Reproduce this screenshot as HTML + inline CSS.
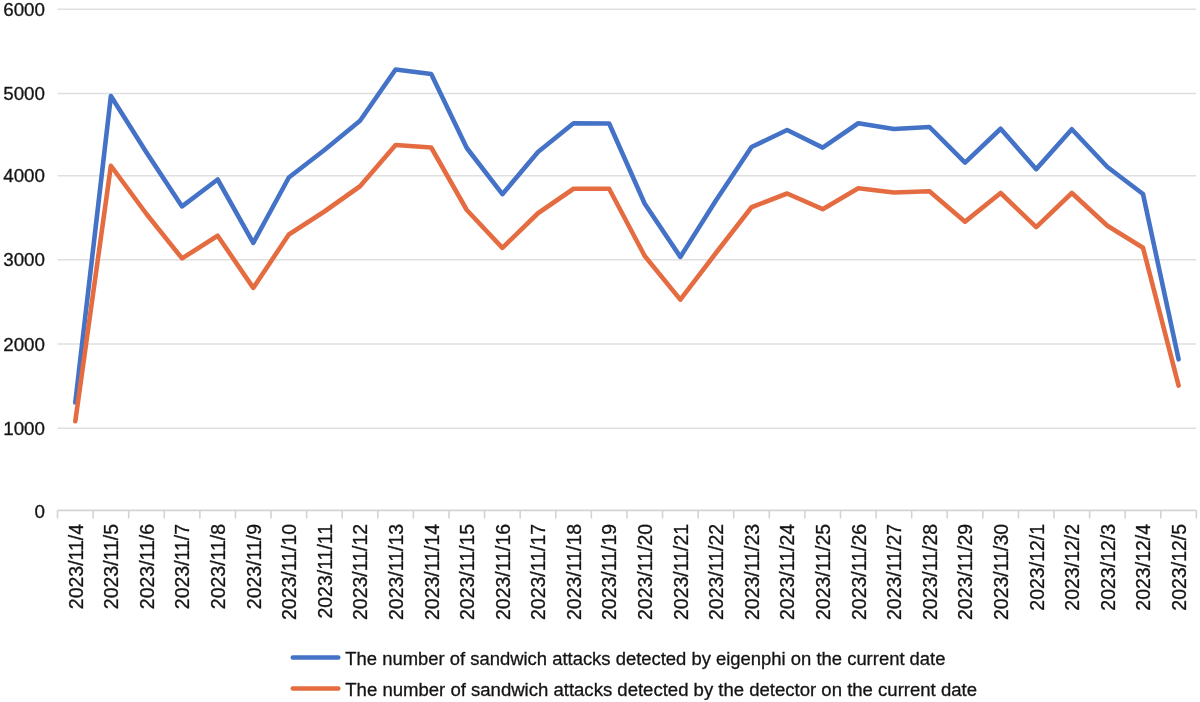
<!DOCTYPE html><html><head><meta charset="utf-8"><style>
html,body{margin:0;padding:0;background:#fff;width:1200px;height:702px;overflow:hidden}
svg{display:block;filter:blur(0.45px)} text{font-family:"Liberation Sans", sans-serif;fill:#141414;stroke:#141414;stroke-width:0.3px}
</style></head><body>
<svg width="1200" height="702" viewBox="0 0 1200 702">
<line x1="57.5" y1="9.2" x2="1196.1" y2="9.2" stroke="#dfdfdf" stroke-width="1.6"/>
<line x1="57.5" y1="93.5" x2="1196.1" y2="93.5" stroke="#dfdfdf" stroke-width="1.6"/>
<line x1="57.5" y1="175.75" x2="1196.1" y2="175.75" stroke="#dfdfdf" stroke-width="1.6"/>
<line x1="57.5" y1="259.75" x2="1196.1" y2="259.75" stroke="#dfdfdf" stroke-width="1.6"/>
<line x1="57.5" y1="344" x2="1196.1" y2="344" stroke="#dfdfdf" stroke-width="1.6"/>
<line x1="57.5" y1="428.2" x2="1196.1" y2="428.2" stroke="#dfdfdf" stroke-width="1.6"/>
<line x1="57.5" y1="510.3" x2="1196.1" y2="510.3" stroke="#d3d3d3" stroke-width="1.8"/>
<line x1="57.50" y1="510.3" x2="57.50" y2="518.5" stroke="#d3d3d3" stroke-width="1.6"/>
<line x1="93.09" y1="510.3" x2="93.09" y2="518.5" stroke="#d3d3d3" stroke-width="1.6"/>
<line x1="128.68" y1="510.3" x2="128.68" y2="518.5" stroke="#d3d3d3" stroke-width="1.6"/>
<line x1="164.27" y1="510.3" x2="164.27" y2="518.5" stroke="#d3d3d3" stroke-width="1.6"/>
<line x1="199.86" y1="510.3" x2="199.86" y2="518.5" stroke="#d3d3d3" stroke-width="1.6"/>
<line x1="235.45" y1="510.3" x2="235.45" y2="518.5" stroke="#d3d3d3" stroke-width="1.6"/>
<line x1="271.04" y1="510.3" x2="271.04" y2="518.5" stroke="#d3d3d3" stroke-width="1.6"/>
<line x1="306.63" y1="510.3" x2="306.63" y2="518.5" stroke="#d3d3d3" stroke-width="1.6"/>
<line x1="342.22" y1="510.3" x2="342.22" y2="518.5" stroke="#d3d3d3" stroke-width="1.6"/>
<line x1="377.81" y1="510.3" x2="377.81" y2="518.5" stroke="#d3d3d3" stroke-width="1.6"/>
<line x1="413.40" y1="510.3" x2="413.40" y2="518.5" stroke="#d3d3d3" stroke-width="1.6"/>
<line x1="448.99" y1="510.3" x2="448.99" y2="518.5" stroke="#d3d3d3" stroke-width="1.6"/>
<line x1="484.58" y1="510.3" x2="484.58" y2="518.5" stroke="#d3d3d3" stroke-width="1.6"/>
<line x1="520.17" y1="510.3" x2="520.17" y2="518.5" stroke="#d3d3d3" stroke-width="1.6"/>
<line x1="555.76" y1="510.3" x2="555.76" y2="518.5" stroke="#d3d3d3" stroke-width="1.6"/>
<line x1="591.35" y1="510.3" x2="591.35" y2="518.5" stroke="#d3d3d3" stroke-width="1.6"/>
<line x1="626.94" y1="510.3" x2="626.94" y2="518.5" stroke="#d3d3d3" stroke-width="1.6"/>
<line x1="662.53" y1="510.3" x2="662.53" y2="518.5" stroke="#d3d3d3" stroke-width="1.6"/>
<line x1="698.12" y1="510.3" x2="698.12" y2="518.5" stroke="#d3d3d3" stroke-width="1.6"/>
<line x1="733.71" y1="510.3" x2="733.71" y2="518.5" stroke="#d3d3d3" stroke-width="1.6"/>
<line x1="769.30" y1="510.3" x2="769.30" y2="518.5" stroke="#d3d3d3" stroke-width="1.6"/>
<line x1="804.89" y1="510.3" x2="804.89" y2="518.5" stroke="#d3d3d3" stroke-width="1.6"/>
<line x1="840.48" y1="510.3" x2="840.48" y2="518.5" stroke="#d3d3d3" stroke-width="1.6"/>
<line x1="876.07" y1="510.3" x2="876.07" y2="518.5" stroke="#d3d3d3" stroke-width="1.6"/>
<line x1="911.66" y1="510.3" x2="911.66" y2="518.5" stroke="#d3d3d3" stroke-width="1.6"/>
<line x1="947.25" y1="510.3" x2="947.25" y2="518.5" stroke="#d3d3d3" stroke-width="1.6"/>
<line x1="982.84" y1="510.3" x2="982.84" y2="518.5" stroke="#d3d3d3" stroke-width="1.6"/>
<line x1="1018.43" y1="510.3" x2="1018.43" y2="518.5" stroke="#d3d3d3" stroke-width="1.6"/>
<line x1="1054.02" y1="510.3" x2="1054.02" y2="518.5" stroke="#d3d3d3" stroke-width="1.6"/>
<line x1="1089.61" y1="510.3" x2="1089.61" y2="518.5" stroke="#d3d3d3" stroke-width="1.6"/>
<line x1="1125.20" y1="510.3" x2="1125.20" y2="518.5" stroke="#d3d3d3" stroke-width="1.6"/>
<line x1="1160.79" y1="510.3" x2="1160.79" y2="518.5" stroke="#d3d3d3" stroke-width="1.6"/>
<line x1="1196.38" y1="510.3" x2="1196.38" y2="518.5" stroke="#d3d3d3" stroke-width="1.6"/>
<text x="45" y="15.90" font-size="18.8" text-anchor="end">6000</text>
<text x="45" y="100.20" font-size="18.8" text-anchor="end">5000</text>
<text x="45" y="182.45" font-size="18.8" text-anchor="end">4000</text>
<text x="45" y="266.45" font-size="18.8" text-anchor="end">3000</text>
<text x="45" y="350.70" font-size="18.8" text-anchor="end">2000</text>
<text x="45" y="434.90" font-size="18.8" text-anchor="end">1000</text>
<text x="45" y="517.70" font-size="18.8" text-anchor="end">0</text>
<text transform="translate(82.59,523.9) rotate(-90)" font-size="19.5" text-anchor="end">2023/11/4</text>
<text transform="translate(118.19,523.9) rotate(-90)" font-size="19.5" text-anchor="end">2023/11/5</text>
<text transform="translate(153.78,523.9) rotate(-90)" font-size="19.5" text-anchor="end">2023/11/6</text>
<text transform="translate(189.37,523.9) rotate(-90)" font-size="19.5" text-anchor="end">2023/11/7</text>
<text transform="translate(224.96,523.9) rotate(-90)" font-size="19.5" text-anchor="end">2023/11/8</text>
<text transform="translate(260.55,523.9) rotate(-90)" font-size="19.5" text-anchor="end">2023/11/9</text>
<text transform="translate(296.14,523.9) rotate(-90)" font-size="19.5" text-anchor="end">2023/11/10</text>
<text transform="translate(331.73,523.9) rotate(-90)" font-size="19.5" text-anchor="end">2023/11/11</text>
<text transform="translate(367.32,523.9) rotate(-90)" font-size="19.5" text-anchor="end">2023/11/12</text>
<text transform="translate(402.91,523.9) rotate(-90)" font-size="19.5" text-anchor="end">2023/11/13</text>
<text transform="translate(438.50,523.9) rotate(-90)" font-size="19.5" text-anchor="end">2023/11/14</text>
<text transform="translate(474.09,523.9) rotate(-90)" font-size="19.5" text-anchor="end">2023/11/15</text>
<text transform="translate(509.68,523.9) rotate(-90)" font-size="19.5" text-anchor="end">2023/11/16</text>
<text transform="translate(545.26,523.9) rotate(-90)" font-size="19.5" text-anchor="end">2023/11/17</text>
<text transform="translate(580.86,523.9) rotate(-90)" font-size="19.5" text-anchor="end">2023/11/18</text>
<text transform="translate(616.45,523.9) rotate(-90)" font-size="19.5" text-anchor="end">2023/11/19</text>
<text transform="translate(652.03,523.9) rotate(-90)" font-size="19.5" text-anchor="end">2023/11/20</text>
<text transform="translate(687.62,523.9) rotate(-90)" font-size="19.5" text-anchor="end">2023/11/21</text>
<text transform="translate(723.22,523.9) rotate(-90)" font-size="19.5" text-anchor="end">2023/11/22</text>
<text transform="translate(758.81,523.9) rotate(-90)" font-size="19.5" text-anchor="end">2023/11/23</text>
<text transform="translate(794.39,523.9) rotate(-90)" font-size="19.5" text-anchor="end">2023/11/24</text>
<text transform="translate(829.99,523.9) rotate(-90)" font-size="19.5" text-anchor="end">2023/11/25</text>
<text transform="translate(865.58,523.9) rotate(-90)" font-size="19.5" text-anchor="end">2023/11/26</text>
<text transform="translate(901.17,523.9) rotate(-90)" font-size="19.5" text-anchor="end">2023/11/27</text>
<text transform="translate(936.75,523.9) rotate(-90)" font-size="19.5" text-anchor="end">2023/11/28</text>
<text transform="translate(972.35,523.9) rotate(-90)" font-size="19.5" text-anchor="end">2023/11/29</text>
<text transform="translate(1007.94,523.9) rotate(-90)" font-size="19.5" text-anchor="end">2023/11/30</text>
<text transform="translate(1043.53,523.9) rotate(-90)" font-size="19.5" text-anchor="end">2023/12/1</text>
<text transform="translate(1079.12,523.9) rotate(-90)" font-size="19.5" text-anchor="end">2023/12/2</text>
<text transform="translate(1114.71,523.9) rotate(-90)" font-size="19.5" text-anchor="end">2023/12/3</text>
<text transform="translate(1150.30,523.9) rotate(-90)" font-size="19.5" text-anchor="end">2023/12/4</text>
<text transform="translate(1185.88,523.9) rotate(-90)" font-size="19.5" text-anchor="end">2023/12/5</text>
<polyline points="75.30,402.5 110.89,96 146.48,152.5 182.06,206.4 217.66,179.5 253.25,242.9 288.84,177.5 324.43,150 360.02,120.75 395.61,69.5 431.20,74 466.79,148 502.38,194.15 537.97,152 573.56,123.25 609.15,123.5 644.74,203.75 680.33,256.9 715.92,200.5 751.51,147 787.10,130 822.69,147.65 858.28,123.25 893.87,129 929.46,127 965.05,162.65 1000.64,128.75 1036.23,169.15 1071.82,129.25 1107.41,167 1143.00,194 1178.59,359.3" fill="none" stroke="#4472C6" stroke-width="4.6" stroke-linejoin="round" stroke-linecap="round"/>
<polyline points="75.30,421.3 110.89,165.75 146.48,214 182.06,258.4 217.66,235.75 253.25,287.9 288.84,234.5 324.43,211.5 360.02,186.25 395.61,145 431.20,147.5 466.79,210 502.38,247.9 537.97,213.25 573.56,188.75 609.15,188.75 644.74,256 680.33,299.65 715.92,253 751.51,207.25 787.10,193.5 822.69,209.15 858.28,188.2 893.87,192.5 929.46,191.25 965.05,221.65 1000.64,193 1036.23,227.15 1071.82,193 1107.41,225.75 1143.00,247.7 1178.59,385.6" fill="none" stroke="#E46C40" stroke-width="4.6" stroke-linejoin="round" stroke-linecap="round"/>
<line x1="292.8" y1="657.5" x2="338.3" y2="657.5" stroke="#4472C6" stroke-width="4.5" stroke-linecap="round"/>
<line x1="292.8" y1="688.5" x2="338.3" y2="688.5" stroke="#E46C40" stroke-width="4.5" stroke-linecap="round"/>
<text x="345.3" y="664.7" font-size="18" textLength="600.2" lengthAdjust="spacingAndGlyphs">The number of sandwich attacks detected by eigenphi on the current date</text>
<text x="345.3" y="695.5" font-size="18" textLength="631.7" lengthAdjust="spacingAndGlyphs">The number of sandwich attacks detected by the detector on the current date</text>
</svg></body></html>
